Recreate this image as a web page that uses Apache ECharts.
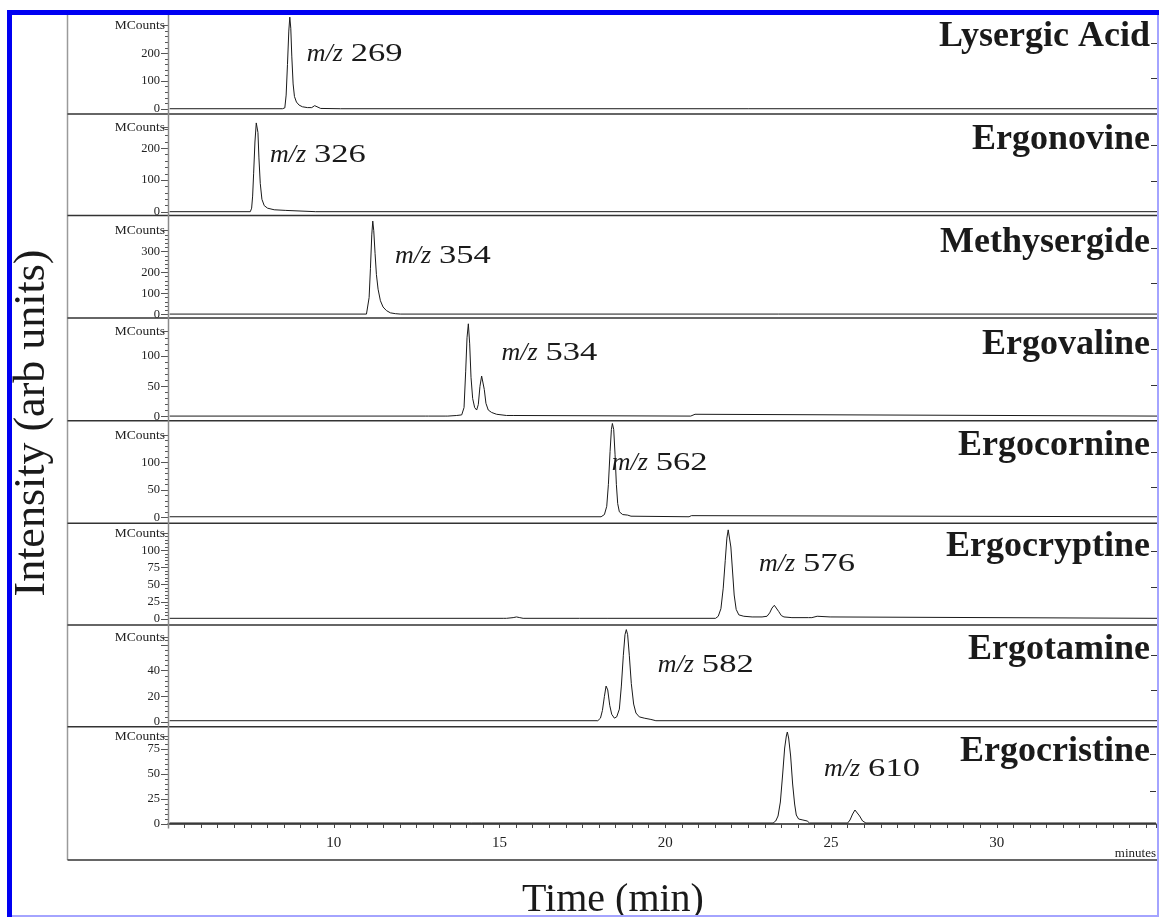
<!DOCTYPE html>
<html><head><meta charset="utf-8">
<script src="https://cdn.jsdelivr.net/npm/echarts@6/dist/echarts.min.js"></script>
<style>html,body{margin:0;padding:0;background:#fff}#c{width:1159px;height:917px}</style>
</head><body><div id="c"></div>
<script>
// ---------------- DATA ----------------
const compounds = ['Lysergic Acid','Ergonovine','Methysergide','Ergovaline','Ergocornine','Ergocryptine','Ergotamine','Ergocristine'];
const mzValues = ['269','326','354','534','562','576','582','610'];
const yMax = [300,265,400,140,150,125,66,88];
const yInterval = [100,100,100,50,50,25,20,25];
const xMin = 5, xMax = 34.8, xLabelStep = 5, xTickStep = 0.5;
const topLabel = 'MCounts';
const xUnitLabel = 'minutes';
const xTitle = 'Time (min)';
const yTitle = 'Intensity (arb units)';
// annotation anchors [time, intensity] for m/z labels
const mzAnchor = [[9.18,201],[8.07,181],[11.84,284],[15.05,107],[18.37,101],[22.81,82],[19.76,45],[24.79,56]];
const rightTickFrac = [0.37,0.79];

const lysergicAcid = [[5.05,1],[8.45,1],[8.52,4],[8.56,50],[8.6,160],[8.64,280],[8.67,330],[8.7,290],[8.73,190],[8.77,90],[8.81,45],[8.87,25],[8.95,14],[9.05,8],[9.2,5],[9.33,5],[9.38,12],[9.42,12],[9.48,5],[9.6,2],[10.2,1],[34.8,1]];
const ergonovine = [[5.05,1],[7.48,1],[7.52,12],[7.55,50],[7.58,120],[7.62,220],[7.66,280],[7.68,286],[7.71,250],[7.74,170],[7.78,90],[7.83,40],[7.9,20],[8.0,12],[8.2,7],[8.55,5],[8.6,2],[9.45,1],[9.5,4],[9.55,1],[34.8,1]];
const methysergide = [[5.05,1],[10.98,1],[11.02,10],[11.06,80],[11.1,220],[11.14,380],[11.17,446],[11.2,400],[11.24,290],[11.28,190],[11.33,120],[11.4,65],[11.48,35],[11.58,18],[11.7,7],[11.85,3],[12.0,1],[34.8,1]];
const ergovaline = [[5.05,1],[12.75,1],[12.8,4],[12.85,1],[13.35,1],[13.39,4],[13.43,1],[13.7,2],[13.85,3],[13.92,15],[13.97,75],[14.01,130],[14.05,153],[14.09,120],[14.13,65],[14.18,30],[14.24,15],[14.3,11],[14.35,20],[14.4,50],[14.45,67],[14.49,66],[14.53,45],[14.58,22],[14.65,11],[14.75,7],[14.9,4],[15.2,2],[15.4,2],[15.42,4],[15.45,1],[20.75,1],[20.8,4],[20.88,4],[20.92,1],[34.8,1]];
const ergocornine = [[5.05,1],[18.05,1],[18.15,5],[18.22,20],[18.27,60],[18.32,120],[18.36,160],[18.39,171],[18.43,160],[18.47,115],[18.51,60],[18.55,25],[18.6,10],[18.7,5],[18.85,4],[18.95,2],[20.7,1],[20.77,3],[20.83,1],[34.8,1]];
const ergocryptine = [[5.05,1],[15.1,1],[15.15,3],[15.2,1],[15.4,2],[15.5,3],[15.6,2],[15.7,1],[17.4,1],[17.43,3],[17.46,1],[18.23,1],[18.26,3],[18.29,1],[21.5,1],[21.58,4],[21.66,15],[21.73,45],[21.79,85],[21.84,118],[21.88,130],[21.92,128],[21.96,105],[22.01,70],[22.06,35],[22.12,14],[22.2,6],[22.35,4],[22.6,3],[22.9,3],[23.05,4],[23.13,9],[23.2,16],[23.27,20],[23.33,18],[23.4,11],[23.48,5],[23.56,3],[23.8,2],[24.3,2],[24.36,4],[24.4,2],[24.56,4],[24.6,2],[24.95,3],[25.0,1],[34.8,1]];
const ergotamine = [[5.05,1],[17.95,1],[18.03,3],[18.09,9],[18.15,20],[18.2,28],[18.25,25],[18.31,13],[18.37,6],[18.45,3],[18.52,4],[18.6,10],[18.66,28],[18.72,52],[18.77,68],[18.81,72],[18.85,68],[18.9,52],[18.96,30],[19.03,14],[19.1,7],[19.2,4],[19.35,3],[19.55,2],[19.7,1],[34.8,1]];
const ergocristine = [[5.05,1],[23.25,1],[23.33,3],[23.4,8],[23.47,22],[23.54,50],[23.6,76],[23.65,88],[23.68,92],[23.72,86],[23.78,68],[23.84,40],[23.9,20],[23.95,9],[24.02,5],[24.15,4],[24.28,3],[24.35,1],[25.5,1],[25.57,4],[25.65,10],[25.72,14],[25.78,13],[25.86,8],[25.95,3],[26.05,1],[34.8,1]];
const traces = [lysergicAcid, ergonovine, methysergide, ergovaline, ergocornine, ergocryptine, ergotamine, ergocristine];

// ---------------- LAYOUT ----------------
const FONT = '"Liberation Serif", "Times New Roman", serif';
const plotLeft = 168, plotWidth = 989;
const panelTop = [25.5,127.7,230.7,331.7,435,533.3,637.3,736];
const panelZero = [109,212,314.3,416.7,517.3,619,722,824];
const sepY = [114,215.5,318,420.7,523.3,625,726.7];
const xAxisOffset = 4.5;
const boxLeft = 67.5, boxBottom = 860, rightEdge = 1157;

const chart = echarts.init(document.getElementById('c'), null, {renderer:'canvas'});
const n = compounds.length;
const grids = [], xAxes = [], yAxes = [], series = [];
for (let i = 0; i < n; i++) {
  grids.push({left: plotLeft, width: plotWidth, top: panelTop[i], height: panelZero[i] - panelTop[i]});
  const last = i === n - 1;
  xAxes.push({
    type: 'value', gridIndex: i, min: xMin, max: xMax, interval: xTickStep, show: last,
    offset: last ? xAxisOffset : 0,
    axisLine: {show: true, lineStyle: {color: '#222', width: 1.5}},
    axisTick: {show: true, length: 4, lineStyle: {color: '#444', width: 1}},
    axisLabel: {show: true, margin: 7, color: '#222', fontFamily: FONT, fontSize: 15, hideOverlap: false,
      formatter: v => (Math.abs(v / xLabelStep - Math.round(v / xLabelStep)) < 1e-6 && v > xMin) ? String(Math.round(v)) : ''},
    splitLine: {show: false},
    name: last ? xUnitLabel : '', nameLocation: 'end', nameGap: 0, nameMoveOverlap: false,
    nameTextStyle: {align: 'right', verticalAlign: 'top', padding: [23, 0, 0, 0], fontFamily: FONT, fontSize: 13, color: '#222'}
  });
  const mx = yMax[i], iv = yInterval[i];
  yAxes.push({
    type: 'value', gridIndex: i, min: 0, max: mx, interval: iv, position: 'left',
    name: topLabel, nameLocation: 'end', nameGap: 0, nameMoveOverlap: false,
    nameTextStyle: {align: 'right', verticalAlign: 'middle', padding: [0, 3, 0, 0], fontFamily: FONT, fontSize: 13.5, color: '#222'},
    axisLine: {show: false},
    axisTick: {show: true, length: 7, lineStyle: {color: '#555', width: 1}},
    minorTick: {show: true, splitNumber: 5, length: 3, lineStyle: {color: '#555', width: 1}},
    splitLine: {show: false}, minorSplitLine: {show: false},
    axisLabel: {margin: 8, color: '#222', fontFamily: FONT, fontSize: 12.5, hideOverlap: false,
      formatter: v => (mx - v < iv * 0.4) ? '' : String(v)
    }
  });
  series.push({
    type: 'line', xAxisIndex: i, yAxisIndex: i, data: traces[i], symbol: 'none', clip: false,
    silent: true, lineStyle: {color: '#1a1a1a', width: 1}
  });
}
for (let i = 0; i < n; i++) {
  yAxes.push({
    type: 'value', gridIndex: i, position: 'right', min: 0, max: 1,
    axisLine: {show: false}, axisLabel: {show: false}, splitLine: {show: false},
    axisTick: {show: true, inside: true, length: 6, customValues: rightTickFrac, lineStyle: {color: '#333', width: 1}}
  });
}

function line(x1, y1, x2, y2, color, w) {
  return {type: 'line', silent: true, z: 1, shape: {x1, y1, x2, y2}, style: {stroke: color, lineWidth: w}};
}
function baseGraphics() {
  const g = [];
  g.push(line(boxLeft, 15, boxLeft, boxBottom, '#9a9a9a', 1.5));
  g.push(line(boxLeft, boxBottom, rightEdge, boxBottom, '#333', 1.5));
  sepY.forEach(y => g.push(line(boxLeft, y, rightEdge, y, '#333', 1.5)));
  g.push(line(plotLeft + 0.5, 15, plotLeft + 0.5, panelZero[n - 1] + xAxisOffset, '#8a8a8a', 1.5));
  // frame
  g.push({type: 'rect', silent: true, z: 10, shape: {x: 7, y: 10, width: 1152, height: 5}, style: {fill: '#0000f2'}});
  g.push({type: 'rect', silent: true, z: 10, shape: {x: 7, y: 10, width: 5, height: 907}, style: {fill: '#0000f2'}});
  g.push({type: 'rect', silent: true, z: 10, shape: {x: 1157, y: 15, width: 2, height: 902}, style: {fill: '#a4a4ff'}});
  g.push({type: 'rect', silent: true, z: 10, shape: {x: 12, y: 915, width: 1147, height: 2}, style: {fill: '#a4a4ff'}});
  // compound names
  for (let i = 0; i < n; i++) {
    g.push({type: 'text', silent: true, z: 5, x: 1150, y: panelZero[i] - 72,
      style: {text: compounds[i], font: 'bold 36px ' + FONT, fill: '#1a1a1a', textAlign: 'right', textVerticalAlign: 'middle', verticalAlign: 'middle'}});
  }
  g.push({type: 'text', silent: true, z: 5, x: 32, y: 423, rotation: Math.PI / 2,
    style: {text: yTitle, font: '44px ' + FONT, fill: '#1a1a1a', textAlign: 'center', textVerticalAlign: 'middle', verticalAlign: 'middle'}});
  g.push({type: 'text', silent: true, z: 5, x: 613, y: 900,
    style: {text: xTitle, font: '40px ' + FONT, fill: '#1a1a1a', textAlign: 'center', textVerticalAlign: 'middle', verticalAlign: 'middle'}});
  return g;
}

const option = {
  animation: false,
  backgroundColor: '#ffffff',
  textStyle: {fontFamily: FONT},
  grid: grids, xAxis: xAxes, yAxis: yAxes, series: series,
  graphic: {elements: baseGraphics()}
};
chart.setOption(option);

// m/z annotations anchored in data space
const g2 = baseGraphics();
for (let i = 0; i < n; i++) {
  const p = chart.convertToPixel({xAxisIndex: i, yAxisIndex: i}, mzAnchor[i]);
  g2.push({type: 'text', silent: true, z: 5, x: p[0], y: p[1] + 1,
    style: {text: 'm/z', font: 'italic 26px ' + FONT, fill: '#1a1a1a', textAlign: 'left', textVerticalAlign: 'middle', verticalAlign: 'middle'}});
  g2.push({type: 'text', silent: true, z: 5, x: p[0] + 44, y: p[1] + 1, scaleX: 1.33,
    style: {text: mzValues[i], font: '26px ' + FONT, fill: '#1a1a1a', textAlign: 'left', textVerticalAlign: 'middle', verticalAlign: 'middle'}});
}
chart.setOption({graphic: {elements: g2}}, {replaceMerge: ['graphic']});
</script></body></html>
